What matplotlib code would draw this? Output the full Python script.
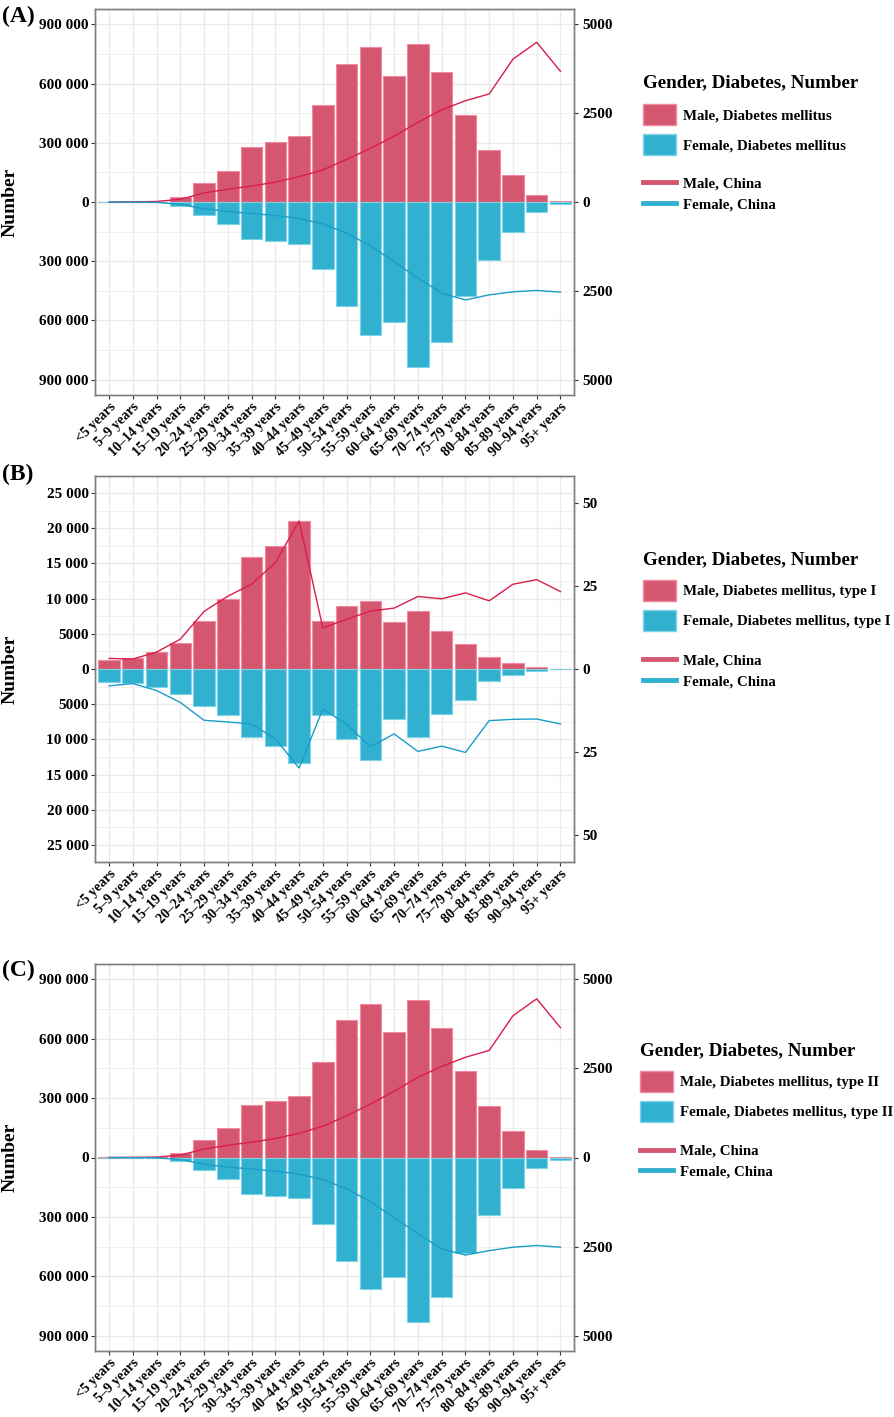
import matplotlib
matplotlib.use("Agg")
import matplotlib.pyplot as plt
from matplotlib.patches import Patch
from matplotlib.lines import Line2D
import numpy as np

plt.rcParams['font.family'] = ['Liberation Serif', 'DejaVu Serif']
plt.rcParams['font.weight'] = 'bold'

ages = ["<5 years", "5\u20139 years", "10\u201314 years", "15\u201319 years", "20\u201324 years",
        "25\u201329 years", "30\u201334 years", "35\u201339 years", "40\u201344 years", "45\u201349 years",
        "50\u201354 years", "55\u201359 years", "60\u201364 years", "65\u201369 years", "70\u201374 years",
        "75\u201379 years", "80\u201384 years", "85\u201389 years", "90\u201394 years", "95+ years"]

# Panel A: Diabetes mellitus
a_male_num = [1000, 1000, 2000, 25000, 95000, 159000, 280000, 302000, 332000, 490000,
              700000, 783000, 637000, 800000, 659000, 441000, 263000, 139000, 36000, 7000]
a_female_num = [1000, 1000, 2000, 20000, 66000, 112000, 190000, 200000, 215000, 339000,
                525000, 673000, 608000, 834000, 707000, 478000, 292000, 151000, 51000, 12000]
a_male_rate = [0, 5, 15, 76, 257, 361, 447, 561, 713, 903,
               1198, 1511, 1854, 2243, 2595, 2852, 3042, 4021, 4496, 3679]
a_female_rate = [0, 3, 10, 67, 190, 266, 323, 380, 466, 618,
                 875, 1236, 1683, 2139, 2567, 2757, 2614, 2529, 2490, 2538]

# Panel B: Diabetes mellitus, type I
b_male_num = [1320, 1510, 2360, 3640, 6760, 9970, 15930, 17440, 20980, 6850,
              8980, 9590, 6660, 8270, 5440, 3540, 1750, 900, 240, 30]
b_female_num = [1840, 1990, 2600, 3500, 5290, 6520, 9690, 10920, 13370, 6570,
                9920, 12950, 7140, 9690, 6380, 4350, 1700, 900, 280, 50]
b_male_rate = [3.2, 3.0, 5.1, 9.0, 17.4, 22.0, 25.6, 32.1, 44.7, 12.4,
               15.0, 17.5, 18.4, 21.9, 21.2, 23.0, 20.6, 25.6, 27.0, 23.4]
b_female_rate = [5.1, 4.4, 6.5, 10.1, 15.5, 16.0, 16.6, 21.1, 29.9, 12.1,
                 16.7, 23.5, 19.6, 24.9, 23.3, 25.2, 15.6, 15.2, 15.1, 16.6]

# Panel C: Diabetes mellitus, type II
c_male_num = [800, 800, 1500, 22000, 87000, 148000, 264000, 285000, 310000, 484000,
              693000, 775000, 634000, 794000, 654000, 438000, 261000, 136000, 36000, 5000]
c_female_num = [800, 800, 1500, 19000, 63000, 107000, 182000, 193000, 204000, 337000,
                521000, 666000, 605000, 830000, 704000, 484000, 293000, 153000, 53000, 14000]
c_male_rate = [0, 4, 12, 67, 239, 344, 429, 534, 677, 878,
               1174, 1498, 1861, 2252, 2557, 2815, 3006, 3979, 4456, 3645]
c_female_rate = [0, 3, 8, 57, 191, 267, 324, 382, 468, 620,
                 878, 1240, 1689, 2137, 2567, 2739, 2615, 2519, 2471, 2519]

big_ticks = [-900000, -600000, -300000, 0, 300000, 600000, 900000]
big_labels = ["900 000", "600 000", "300 000", "0", "300 000", "600 000", "900 000"]
small_ticks = [-25000, -20000, -15000, -10000, -5000, 0, 5000, 10000, 15000, 20000, 25000]
small_labels = ["25 000", "20 000", "15 000", "10 000", "5000", "0",
                "5000", "10 000", "15 000", "20 000", "25 000"]
rate_big_ticks = [-5000, -2500, 0, 2500, 5000]
rate_big_labels = ["5000", "2500", "0", "2500", "5000"]
rate_small_ticks = [-50, -25, 0, 25, 50]
rate_small_labels = ["50", "25", "0", "25", "50"]

legend_title = "Gender, Diabetes, Number"
legend_bar_labels_A = ["Male, Diabetes mellitus", "Female, Diabetes mellitus"]
legend_bar_labels_B = ["Male, Diabetes mellitus, type I", "Female, Diabetes mellitus, type I"]
legend_bar_labels_C = ["Male, Diabetes mellitus, type II", "Female, Diabetes mellitus, type II"]
legend_line_labels = ["Male, China", "Female, China"]

MALE_BAR = '#D5566F'
FEMALE_BAR = '#31B1CF'
MALE_EDGE = '#F08AA0'
FEMALE_EDGE = '#7FD3E6'
MALE_LINE = '#D81E4A'
FEMALE_LINE = '#1A9DC8'
GRID = '#EBEBEB'

W, H = 895, 1417
fig = plt.figure(figsize=(W / 100, H / 100), dpi=100)

TICK_FS = 11
XTICK_FS = 10
LEG_FS = 10.7


def px_axes(x0, y0, x1, y1):
    return fig.add_axes([x0 / W, 1 - y1 / H, (x1 - x0) / W, (y1 - y0) / H])


def draw_panel(box, male_num, female_num, male_rate, female_rate, ylim, factor,
               lticks, llabels, rticks, rlabels, letter, letter_y, bar_labels,
               leg_x, title_y, bar_y, line_y):
    ax = px_axes(*box)
    x = np.arange(len(ages))
    ax.set_xlim(-0.57, len(ages) - 0.43)
    ax.set_ylim(-ylim, ylim)
    minor = [(lticks[i] + lticks[i + 1]) / 2 for i in range(len(lticks) - 1)]
    for m in minor:
        ax.axhline(m, color=GRID, lw=0.5, zorder=0)
    for t in lticks:
        ax.axhline(t, color=GRID, lw=1.0, zorder=0)
    for xi in x:
        ax.axvline(xi, color=GRID, lw=1.0, zorder=0)
    ax.bar(x, male_num, width=0.9, color=MALE_BAR, edgecolor=MALE_EDGE, linewidth=0.8, zorder=2)
    ax.bar(x, [-v for v in female_num], width=0.9, color=FEMALE_BAR, edgecolor=FEMALE_EDGE,
           linewidth=0.8, zorder=2)
    ax.set_yticks(lticks)
    ax.set_yticklabels(llabels, fontsize=TICK_FS, fontweight='bold')
    ax.set_xticks(x)
    ax.set_xticklabels(ages, rotation=45, ha='right', rotation_mode='anchor', fontsize=XTICK_FS,
                       fontweight='bold')
    ax.tick_params(axis='both', length=3, color='#333333', pad=2)
    ax.tick_params(axis='x', pad=1)
    ax.set_ylabel("Number", fontsize=14, fontweight='bold')
    ax.yaxis.set_label_coords(-0.161, 0.5)
    for s in ax.spines.values():
        s.set_color('#7F7F7F')
        s.set_linewidth(1.0)
    ax2 = ax.twinx()
    ax2.set_ylim(-ylim / factor, ylim / factor)
    ax2.plot(x, male_rate, color=MALE_LINE, lw=1.0, zorder=3)
    ax2.plot(x, [-v for v in female_rate], color=FEMALE_LINE, lw=1.0, zorder=3)
    ax2.set_yticks(rticks)
    ax2.set_yticklabels(rlabels, fontsize=TICK_FS, fontweight='bold')
    ax2.tick_params(axis='y', length=3, color='#333333', pad=3)
    for s in ax2.spines.values():
        s.set_color('#7F7F7F')
        s.set_linewidth(1.0)
    fig.text(2 / W, 1 - letter_y / H, letter, fontsize=17, fontweight='bold', va='center', ha='left')
    fig.text(leg_x / W, 1 - title_y / H, legend_title, fontsize=13.7, fontweight='bold',
             va='center', ha='left')
    bar_handles = [Patch(facecolor=MALE_BAR, edgecolor=MALE_EDGE),
                   Patch(facecolor=FEMALE_BAR, edgecolor=FEMALE_EDGE)]
    fig.legend(handles=bar_handles, labels=bar_labels, loc='upper left',
               bbox_to_anchor=(leg_x / W, 1 - (bar_y - 10.5) / H), frameon=False,
               prop={'size': LEG_FS, 'weight': 'bold'},
               handlelength=2.22, handleheight=1.79, labelspacing=0.6,
               handletextpad=0.47, borderaxespad=0, borderpad=0)
    line_handles = [Line2D([0], [0], color=MALE_BAR, lw=3.5),
                    Line2D([0], [0], color=FEMALE_BAR, lw=3.5)]
    fig.legend(handles=line_handles, labels=legend_line_labels, loc='upper left',
               bbox_to_anchor=(leg_x / W, 1 - (line_y - 7.4) / H), frameon=False,
               prop={'size': LEG_FS, 'weight': 'bold'},
               handlelength=2.22, labelspacing=0.49, handletextpad=0.47,
               borderaxespad=0, borderpad=0)
    return ax


draw_panel((95.5, 9, 574, 395), a_male_num, a_female_num, a_male_rate, a_female_rate,
           978000, 180, big_ticks, big_labels, rate_big_ticks, rate_big_labels,
           "(A)", 16, legend_bar_labels_A, 643, 83, 114.5, 184.5)
draw_panel((95.5, 476, 574, 862), b_male_num, b_female_num, b_male_rate, b_female_rate,
           27400, 470, small_ticks, small_labels, rate_small_ticks, rate_small_labels,
           "(B)", 474, legend_bar_labels_B, 643, 560, 590.5, 661.5)
draw_panel((95.5, 964, 574, 1351), c_male_num, c_female_num, c_male_rate, c_female_rate,
           978000, 180, big_ticks, big_labels, rate_big_ticks, rate_big_labels,
           "(C)", 970, legend_bar_labels_C, 640, 1050.5, 1081.5, 1152)

fig.savefig("out.png", dpi=100)
